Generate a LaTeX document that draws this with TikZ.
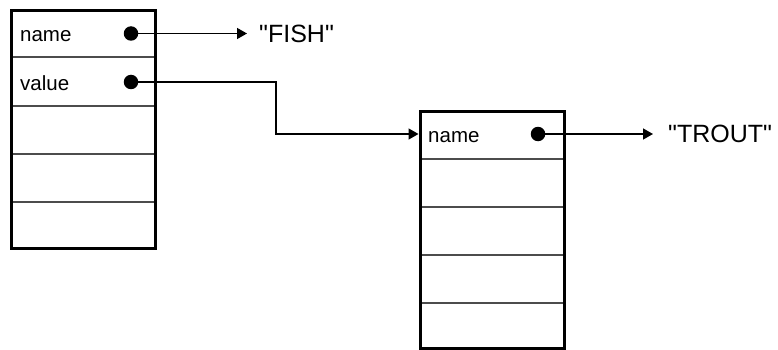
\documentclass[tikz,border=0pt]{standalone}
\usepackage{fontspec}
\setmainfont{Liberation Sans}
\usetikzlibrary{arrows.meta}
\begin{document}
\begin{tikzpicture}[x=1pt,y=-1pt,
  frame/.style={inner sep=0pt,minimum width=144pt},
  border/.style={draw=black,line width=3pt},
  divider/.style={draw=black!70,line width=1.3pt},
  field/.style={anchor=base west,inner sep=0pt,font=\fontsize{20.5}{24}\selectfont},
  strlbl/.style={anchor=base west,inner sep=0pt,font=\fontsize{25}{30}\selectfont},
  dot/.style={circle,fill=black,inner sep=0pt,minimum size=14.5pt},
  conn/.style={draw=black,line width=1.5pt,-{Triangle[length=10pt,width=11pt]}}]
\useasboundingbox (0,0) rectangle (778,350);
% left record
\node[frame,minimum height=238pt,anchor=north west] (lbox) at (11.5,10.5) {};
\foreach \yy in {57,106,154,202}
  \draw[divider] (lbox.west |- 0,\yy) -- (lbox.east |- 0,\yy);
\draw[border] (lbox.north west) rectangle (lbox.south east);
% right record
\node[frame,minimum height=237pt,anchor=north west] (rbox) at (420,111.5) {};
\foreach \yy in {159,207,255,303}
  \draw[divider] (rbox.west |- 0,\yy) -- (rbox.east |- 0,\yy);
\draw[border] (rbox.north west) rectangle (rbox.south east);
% fields
\node[field] (lname) at (20,41.7) {name};
\node[field] (lvalue) at (20,91) {value};
\node[field] (rname) at (428,142) {name};
\node[dot] (d1) at (131,33.5) {};
\node[dot] (d2) at (131,82) {};
\node[dot] (d3) at (538,134) {};
% strings
\node[strlbl] (fish) at (259,42.7) {\textquotedbl FISH\textquotedbl};
\node[strlbl] (trout) at (668,142.7) {\textquotedbl TROUT\textquotedbl};
\coordinate (fishtip) at (247,33.5);
\coordinate (trouttip) at (653,134);
\coordinate (bend) at (276,108);
\coordinate (rin) at (418.5,134);
% connectors
\draw[conn] (d1.center) -- (fishtip);
\draw[conn] (d3.center) -- (trouttip);
\draw[conn] (d2.center) -- (d2 -| bend) -- (bend |- rin) -- (rin);
\end{tikzpicture}
\end{document}
